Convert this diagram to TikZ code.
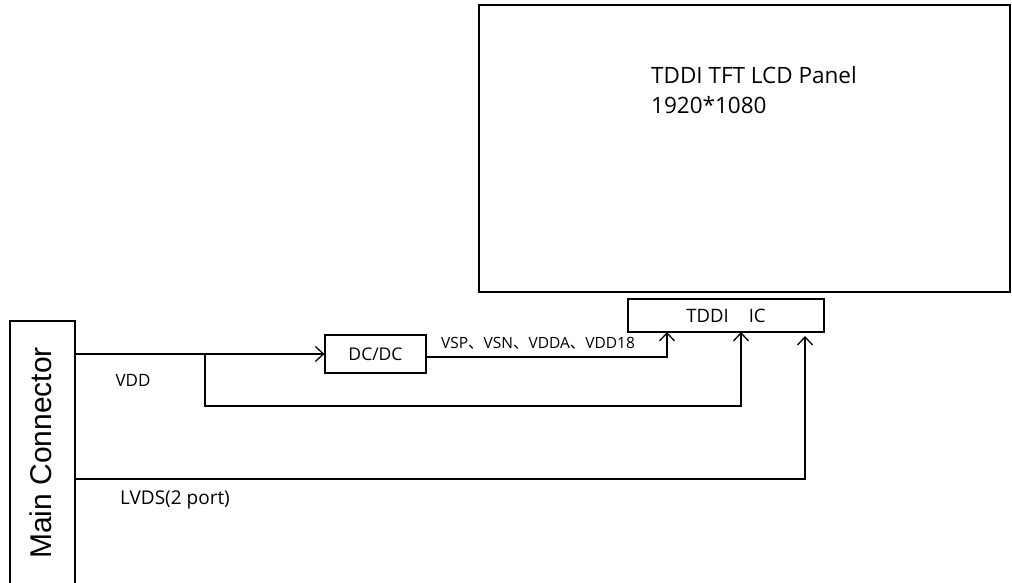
\documentclass[tikz,border=0pt]{standalone}
\usepackage{fontspec}
\setmainfont{Open Sans}
\newfontfamily\arialf{Liberation Sans}
\newfontfamily\cjkf{Noto Sans CJK SC}
\usetikzlibrary{arrows.meta}
\begin{document}
\begin{tikzpicture}[x=1pt,y=-1pt,
  box/.style={draw,line width=1.3pt,inner sep=0pt},
  wire/.style={line width=1.3pt},
  arr/.style={wire,-{Straight Barb[length=8pt,width=15pt,line width=1.3pt]}},
  lbl/.style={inner sep=0pt}]
\useasboundingbox (0,0) rectangle (1012,583);
% panel
\node[box,minimum width=531pt,minimum height=287pt] (panel) at (744.5,148.5) {};
\node[lbl,anchor=west,align=left,font=\fontsize{22.5}{30}\selectfont] (ptxt) at (651,90) {TDDI TFT LCD Panel\\1920*1080};
% TDDI IC
\node[box,minimum width=196pt,minimum height=33pt,font=\fontsize{18.5}{20}\selectfont] (ic) at (726,315.5) {TDDI\hspace{20pt}IC};
% DC/DC
\node[box,minimum width=101pt,minimum height=38pt,font=\fontsize{17.5}{20}\selectfont] (dcdc) at (375.5,354) {DC/DC};
% main connector
\node[box,minimum width=65pt,minimum height=280pt] (mc) at (42.5,461) {};
\node[lbl,rotate=90,font=\arialf\fontsize{30}{32}\selectfont] (mctxt) at (41,453) {Main Connector};
% coordinates
\coordinate (vin) at (75,354);
\coordinate (b1) at (205,354);
\coordinate (b2) at (205,406);
\coordinate (t1) at (667,332);
\coordinate (t2) at (741,332);
\coordinate (t3) at (805,336);
\coordinate (dout) at (426,357);
\coordinate (lin) at (75,479);
% wires
\draw[arr] (vin) -- (dcdc.west);
\draw[arr] (b1) -- (b2) -| (t2);
\draw[arr] (dout) -| (t1);
\draw[arr] (lin) -| (t3);
% labels
\node[lbl,font=\fontsize{17}{20}\selectfont] (vdd) at (133,380) {VDD};
\node[lbl,font=\fontsize{19}{20}\selectfont] (lvds) at (175,500) {LVDS(2 port)};
\node[lbl,font=\fontsize{15.5}{18}\selectfont] (vsp) at (538,343) {VSP\cjkf 、\rmfamily VSN\cjkf 、\rmfamily VDDA\cjkf 、\rmfamily VDD18};
\end{tikzpicture}
\end{document}
